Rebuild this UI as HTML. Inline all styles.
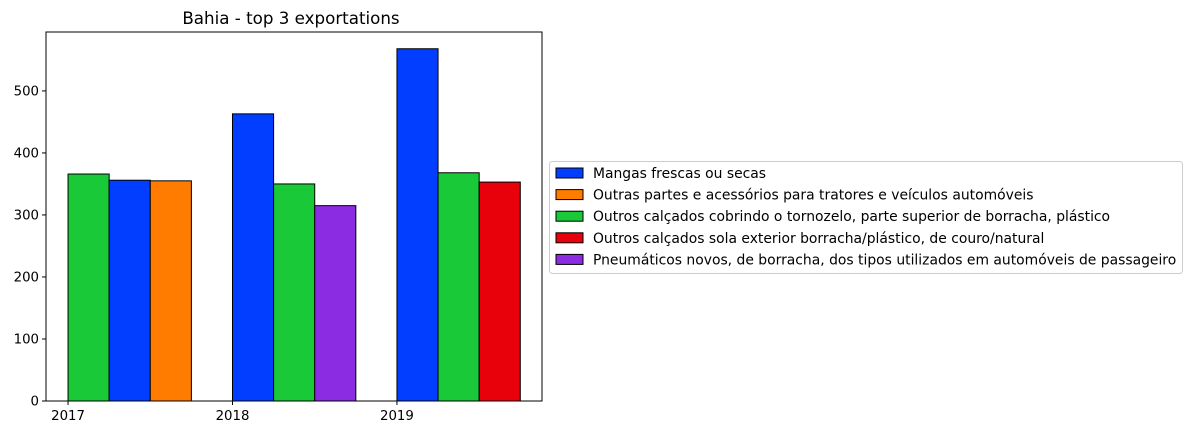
<!DOCTYPE html>
<html><head><meta charset="utf-8"><style>
body{margin:0;background:#fff;}
svg text{font-family:"DejaVu Sans","Liberation Sans",sans-serif;fill:#000;}
</style></head><body>
<svg id="chart" width="1192" height="435" xmlns="http://www.w3.org/2000/svg">
<rect width="1192" height="435" fill="#fff"/>
<text x="291" y="24" font-size="16.7" text-anchor="middle">Bahia - top 3 exportations</text>
<g id="bars"></g>
<g id="axes"></g>
<g id="legend"></g>
</svg>
<script>
const years = [2017, 2018, 2019];
const seriesNames = ["Mangas frescas ou secas","Outras partes e acessórios para tratores e veículos automóveis","Outros calçados cobrindo o tornozelo, parte superior de borracha, plástico","Outros calçados sola exterior borracha/plástico, de couro/natural","Pneumáticos novos, de borracha, dos tipos utilizados em automóveis de passageiro"];
const seriesColors = ["#023eff","#ff7c00","#1ac938","#e8000b","#8b2be2"];
// per year: [seriesIndex, value] in drawn order
const bars2017 = [[2,366],[0,356],[1,355]];
const bars2018 = [[0,463],[2,350],[4,315]];
const bars2019 = [[0,568],[2,368],[3,353]];
const yTicks = [0,100,200,300,400,500];

const NS="http://www.w3.org/2000/svg";
const L=46,R=542,T=32,B=401;
const xMin=2016.866,xMax=2019.882,yMin=0,yMax=595;
const xs=v=>L+(v-xMin)/(xMax-xMin)*(R-L);
const ys=v=>B-(v-yMin)/(yMax-yMin)*(B-T);
function mk(tag,attrs,parent){const e=document.createElementNS(NS,tag);for(const k in attrs)e.setAttribute(k,attrs[k]);parent.appendChild(e);return e;}
const gb=document.getElementById('bars'),ga=document.getElementById('axes'),gl=document.getElementById('legend');
const all=[bars2017,bars2018,bars2019];
all.forEach((arr,yi)=>{arr.forEach(([s,v],k)=>{
 const x0=xs(years[yi]+k*0.25),x1=xs(years[yi]+(k+1)*0.25);
 const r=mk('rect',{x:x0,y:ys(v),width:x1-x0,height:ys(0)-ys(v),fill:seriesColors[s],stroke:'#000','stroke-width':1},gb);
 
 
});});
const frame=mk('rect',{x:L,y:T,width:R-L,height:B-T,fill:'none',stroke:'#000','stroke-width':1},ga);


yTicks.forEach(t=>{const y=ys(t);
 mk('line',{x1:L-4,x2:L,y1:y,y2:y,stroke:'#000'},ga);
 const tx=mk('text',{x:L-7,y:y+4.5,'font-size':13.3,'text-anchor':'end'},ga);tx.textContent=t;
 
 
});
years.forEach(yr=>{const x=xs(yr);
 mk('line',{x1:x,x2:x,y1:B,y2:B+4,stroke:'#000'},ga);
 const tx=mk('text',{x:x,y:B+19,'font-size':13.3,'text-anchor':'middle'},ga);tx.textContent=yr;
 
 
});
const lb=mk('rect',{x:549.5,y:161.5,width:633,height:112,rx:3,fill:'#fff',stroke:'#ccc'},gl);


seriesNames.forEach((n,i)=>{const y=173+i*21.6;
 const sw=mk('rect',{x:556,y:y-5,width:27,height:10,fill:seriesColors[i],stroke:'#000'},gl);
 
 
 const tx=mk('text',{x:593,y:y+5,'font-size':13.9},gl);tx.textContent=n;
 
 
});
</script>
</body></html>
